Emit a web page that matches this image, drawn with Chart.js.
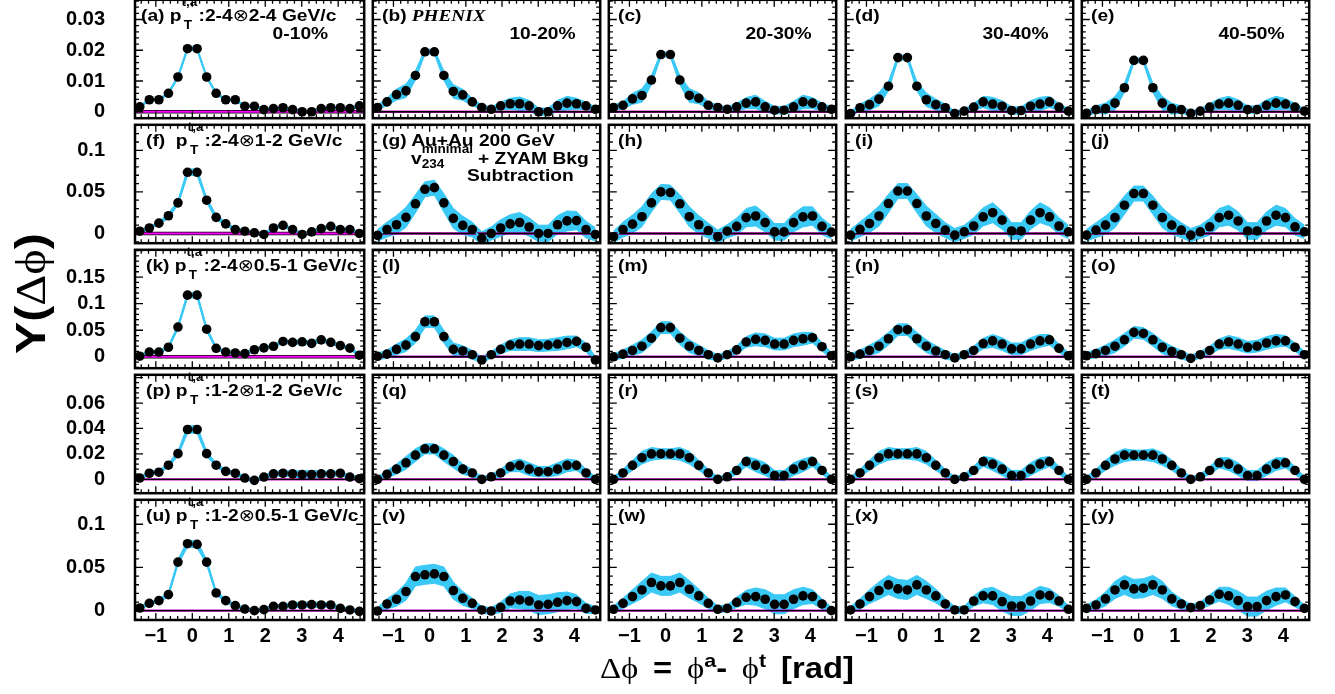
<!DOCTYPE html>
<html>
<head>
<meta charset="utf-8">
<script src="https://cdn.jsdelivr.net/npm/chart.js@4.4.1/dist/chart.umd.min.js"></script>
<style>
  body { margin: 0; background: #fff; }
  #page { position: relative; width: 1335px; height: 694px; overflow: hidden; background: #fff; }
  #page canvas { position: absolute; }
  .lbl { position: absolute; font: bold 17px "Liberation Sans", Arial, sans-serif; line-height: 17px;
         white-space: nowrap; transform: scaleX(1.13); transform-origin: 0 0; color: #000; z-index: 5; }
  .lbl.r { transform-origin: 100% 0; }
  .sym { font-family: "DejaVu Sans", sans-serif; font-weight: normal; }
  .gr { font-family: "Liberation Serif", "DejaVu Serif", serif; font-weight: normal; }
  .phx { font-family: "Liberation Serif", serif; font-style: italic; }
  .ss { display: inline-block; position: relative; height: 1px; }
  .ss span { position: absolute; left: 0; font-size: 12px; line-height: 12px; }
</style>
</head>
<body>
<div id="page"></div>
<script>
// bin centres in delta phi (rad)
const dphi = [-1.440, -1.178, -0.916, -0.654, -0.393, -0.131, 0.131, 0.393, 0.654, 0.916, 1.178, 1.440,
              1.702, 1.963, 2.225, 2.487, 2.749, 3.011, 3.272, 3.534, 3.796, 4.058, 4.320, 4.581];

// per-trigger yields, one array per panel
const yield_a = [0.0016,0.0039,0.0039,0.006,0.0113,0.0205,0.0205,0.0113,0.006,0.0039,0.0039,0.0018,0.0018,0.0007,0.001,0.0013,0.0007,0.0,0.0,0.001,0.0013,0.0013,0.001,0.0019];
const yield_b = [0.0014,0.0032,0.0056,0.0068,0.0118,0.0195,0.0195,0.0118,0.0066,0.0055,0.0032,0.0014,0.0008,0.0019,0.0026,0.0026,0.0019,0.0,0.0,0.0019,0.0028,0.0026,0.0019,0.0008];
const yield_c = [0.0014,0.0021,0.0042,0.0053,0.0103,0.0186,0.0186,0.0103,0.0053,0.0044,0.0021,0.0014,0.0008,0.0016,0.0028,0.0032,0.0016,0.0005,0.0005,0.0016,0.0032,0.0028,0.0016,0.0008];
const yield_d = [-0.0006,0.0013,0.0023,0.0041,0.0083,0.0176,0.0176,0.0083,0.0039,0.0023,0.0013,-0.0006,0.0002,0.0015,0.0032,0.0025,0.0018,0.0004,0.0004,0.0018,0.0025,0.0032,0.0015,0.0002];
const yield_e = [-0.0005,0.0007,0.001,0.0028,0.0078,0.0167,0.0167,0.0078,0.0028,0.001,0.0007,-0.0005,0.0002,0.0015,0.0025,0.0028,0.0021,0.0007,0.0007,0.0021,0.0028,0.0025,0.0015,0.0002];

const yield_f = [0.0027,0.0066,0.0124,0.0213,0.0368,0.0736,0.0736,0.04,0.0194,0.0116,0.0047,0.0027,0.0008,-0.0012,0.0066,0.0097,0.0047,-0.0012,0.0019,0.0058,0.0085,0.0047,0.0047,0.0];
const yield_g = [-0.0023,0.0047,0.0105,0.0194,0.0357,0.0531,0.0551,0.0368,0.0182,0.0097,0.0047,-0.0058,0.0,0.0066,0.0116,0.0132,0.0078,0.0,0.0,0.0105,0.0151,0.0155,0.0047,-0.0012];
const yield_h = [-0.0039,0.0047,0.0112,0.0202,0.0368,0.05,0.0492,0.0357,0.0202,0.0105,0.0035,-0.0039,0.0027,0.0085,0.019,0.021,0.013,0.0019,0.0019,0.013,0.02,0.021,0.0085,0.0016];
const yield_i = [-0.002,0.005,0.012,0.021,0.036,0.051,0.051,0.036,0.021,0.012,0.004,-0.002,0.002,0.009,0.02,0.025,0.016,0.003,0.003,0.016,0.025,0.02,0.009,0.002];
const yield_j = [-0.002,0.004,0.01,0.019,0.034,0.048,0.048,0.034,0.019,0.01,0.004,-0.002,0.002,0.008,0.019,0.022,0.015,0.003,0.003,0.015,0.022,0.019,0.008,0.002];

const yield_k = [0.0012,0.009,0.009,0.018,0.056,0.116,0.116,0.052,0.016,0.009,0.0072,0.006,0.0133,0.0169,0.0199,0.0289,0.0271,0.0283,0.0253,0.0319,0.0271,0.0211,0.0163,0.003];
const yield_l = [0.001,0.005,0.014,0.022,0.038,0.066,0.066,0.038,0.014,0.011,0.004,-0.006,0.004,0.014,0.022,0.024,0.024,0.021,0.022,0.024,0.027,0.029,0.018,-0.006];
const yield_m = [0.0,0.005,0.012,0.02,0.035,0.055,0.055,0.035,0.02,0.012,0.004,-0.002,0.004,0.013,0.028,0.033,0.031,0.024,0.024,0.031,0.034,0.036,0.019,0.002];
const yield_n = [0.0,0.005,0.012,0.02,0.034,0.051,0.051,0.034,0.02,0.011,0.004,-0.002,0.004,0.012,0.025,0.03,0.024,0.015,0.015,0.024,0.03,0.032,0.016,0.002];
const yield_o = [0.002,0.006,0.012,0.02,0.032,0.046,0.044,0.032,0.018,0.01,0.004,-0.003,0.004,0.012,0.024,0.028,0.024,0.018,0.02,0.026,0.03,0.03,0.018,0.004];

const yield_p = [0.001,0.0048,0.0056,0.0111,0.0202,0.0392,0.0392,0.0202,0.0111,0.0063,0.0048,0.001,-0.0008,0.0018,0.0043,0.0048,0.0043,0.0038,0.0038,0.0043,0.0043,0.0048,0.0018,0.0005];
const yield_q = [0.0,0.004,0.008,0.013,0.019,0.024,0.024,0.019,0.014,0.008,0.005,0.0,0.002,0.005,0.01,0.011,0.008,0.006,0.006,0.008,0.011,0.011,0.005,0.0];
const yield_r = [0.0,0.005,0.011,0.017,0.02,0.02,0.02,0.02,0.017,0.011,0.005,0.0,0.002,0.007,0.014,0.011,0.008,0.003,0.003,0.008,0.011,0.014,0.007,0.0];
const yield_s = [0.0,0.005,0.011,0.017,0.02,0.02,0.02,0.02,0.017,0.011,0.005,0.0,0.002,0.007,0.014,0.012,0.008,0.003,0.003,0.008,0.012,0.014,0.007,0.0];
const yield_t = [0.0,0.005,0.011,0.016,0.019,0.019,0.019,0.019,0.016,0.011,0.005,0.0,0.002,0.007,0.013,0.012,0.008,0.003,0.003,0.008,0.012,0.013,0.007,0.0];

const yield_u = [0.0031,0.0085,0.0116,0.0186,0.0562,0.0775,0.0767,0.0562,0.0205,0.0116,0.0058,0.0019,0.0,0.0012,0.005,0.005,0.0066,0.0066,0.007,0.0066,0.0066,0.0027,0.0008,-0.0008];
const yield_v = [-0.0004,0.0078,0.0132,0.0221,0.0395,0.0415,0.0426,0.0395,0.0233,0.0143,0.0085,0.0008,-0.0004,0.0039,0.0112,0.0124,0.0112,0.0066,0.0074,0.0097,0.0116,0.0105,0.0027,0.0008];
const yield_w = [0.0016,0.0085,0.0163,0.024,0.0326,0.0287,0.0287,0.0326,0.0248,0.0171,0.0085,0.0016,0.0027,0.0097,0.0155,0.0163,0.0132,0.0074,0.0074,0.0132,0.0171,0.0163,0.0078,0.0];
const yield_x = [0.0008,0.0078,0.0163,0.0233,0.0298,0.0252,0.024,0.0298,0.024,0.0171,0.0078,0.0008,0.0008,0.0112,0.0171,0.0171,0.0105,0.0054,0.0054,0.0112,0.0182,0.0174,0.0112,0.0016];
const yield_y = [0.0027,0.0066,0.0136,0.024,0.0298,0.0252,0.026,0.0298,0.024,0.0136,0.0078,0.0035,0.0058,0.0124,0.019,0.0171,0.0116,0.0047,0.0047,0.0116,0.0163,0.0182,0.0105,0.0027];

// systematic band half widths: first column panels, then the other columns by row
const band_a = [0.0004,0.0004,0.0004,0.0004,0.0005,0.0006,0.0006,0.0005,0.0004,0.0004,0.0004,0.0004,0.0004,0.0004,0.0004,0.0004,0.0004,0.0004,0.0004,0.0004,0.0004,0.0004,0.0004,0.0004];
const band_f = [0.002,0.002,0.002,0.003,0.003,0.004,0.004,0.003,0.003,0.002,0.002,0.002,0.002,0.002,0.002,0.002,0.002,0.002,0.002,0.002,0.002,0.002,0.002,0.002];
const band_k = [0.003,0.003,0.003,0.003,0.004,0.005,0.005,0.004,0.003,0.003,0.003,0.003,0.003,0.003,0.003,0.003,0.004,0.004,0.004,0.004,0.003,0.003,0.003,0.003];
const band_p = [0.0015,0.0015,0.0015,0.0015,0.002,0.003,0.003,0.002,0.0015,0.0015,0.0015,0.0015,0.0015,0.0015,0.002,0.002,0.0025,0.003,0.003,0.0025,0.002,0.002,0.0015,0.0015];
const band_u = [0.002,0.002,0.002,0.0025,0.003,0.004,0.004,0.003,0.0025,0.002,0.002,0.002,0.002,0.002,0.002,0.0025,0.003,0.003,0.003,0.003,0.0025,0.002,0.002,0.002];

const band_row1 = [0.0008,0.0012,0.0018,0.0022,0.0015,0.0008,0.0008,0.0015,0.0022,0.0018,0.0012,0.0008,0.0008,0.0012,0.0018,0.0022,0.0018,0.0012,0.0012,0.0018,0.0022,0.0018,0.0012,0.0008];
const band_row2 = [0.007,0.009,0.011,0.012,0.011,0.009,0.009,0.011,0.012,0.011,0.009,0.008,0.008,0.01,0.011,0.012,0.011,0.01,0.01,0.011,0.012,0.011,0.01,0.008];
const band_row3 = [0.006,0.008,0.01,0.012,0.012,0.011,0.011,0.012,0.012,0.01,0.008,0.006,0.006,0.008,0.01,0.012,0.012,0.011,0.011,0.012,0.012,0.01,0.008,0.006];
const band_row4 = [0.002,0.003,0.004,0.005,0.005,0.004,0.004,0.005,0.005,0.004,0.003,0.002,0.002,0.003,0.004,0.005,0.005,0.004,0.004,0.005,0.005,0.004,0.003,0.002];
const band_row5 = [0.004,0.006,0.008,0.01,0.011,0.011,0.011,0.011,0.01,0.008,0.006,0.004,0.004,0.006,0.008,0.01,0.011,0.011,0.011,0.011,0.01,0.008,0.006,0.004];

// y axis per row
const yMin = [-0.0021, -0.0117, -0.0214, -0.0109, -0.0108];
const yMax = [0.0364, 0.1307, 0.2013, 0.0822, 0.1283];
const yStep = [0.01, 0.05, 0.05, 0.02, 0.05];
const yMinor = [0.002, 0.01, 0.01, 0.004, 0.01];
const yLabelTop = [0.03, 0.1, 0.15, 0.06, 0.1];

const panels = [yield_a, yield_b, yield_c, yield_d, yield_e,
                yield_f, yield_g, yield_h, yield_i, yield_j,
                yield_k, yield_l, yield_m, yield_n, yield_o,
                yield_p, yield_q, yield_r, yield_s, yield_t,
                yield_u, yield_v, yield_w, yield_x, yield_y];
const firstColBand = [band_a, band_f, band_k, band_p, band_u];
const rowBand = [band_row1, band_row2, band_row3, band_row4, band_row5];

const colLeft = [135, 371, 607, 844, 1080];
const rowTop = [-2, 123, 248, 373, 498];
const W = 231, H = 122, pad = 3, xAxisH = 40;
const cyan = '#3ac8f5';

const frameTicks = {
  id: 'frameTicks',
  afterDraw(chart, args, opts) {
    const {ctx, chartArea: a} = chart;
    const xs = chart.scales.x, ys = chart.scales.y;
    ctx.save();
    ctx.strokeStyle = '#000';
    ctx.lineWidth = 1.3;
    ctx.beginPath();
    for (let k = -7; k <= 23; k++) {
      const px = xs.getPixelForValue(k * 0.2);
      const len = k % 5 === 0 ? 7 : 4;
      ctx.moveTo(px, a.bottom); ctx.lineTo(px, a.bottom - len);
      ctx.moveTo(px, a.top); ctx.lineTo(px, a.top + len);
    }
    const every = Math.round(opts.step / opts.minor);
    for (let k = Math.ceil(ys.min / opts.minor); k * opts.minor <= ys.max; k++) {
      const py = ys.getPixelForValue(k * opts.minor);
      const len = k % every === 0 ? 8 : 4;
      ctx.moveTo(a.left, py); ctx.lineTo(a.left + len, py);
      ctx.moveTo(a.right, py); ctx.lineTo(a.right - len, py);
    }
    ctx.stroke();
    ctx.lineWidth = 2.5;
    ctx.strokeRect(a.left, a.top, a.right - a.left, a.bottom - a.top);
    ctx.restore();
  }
};

const page = document.getElementById('page');
const tickFont = {family: '"Liberation Sans", Arial, sans-serif', weight: 'bold', size: 20};

for (let r = 0; r < 5; r++) {
  for (let c = 0; c < 5; c++) {
    const vals = panels[r * 5 + c];
    const err = c === 0 ? firstColBand[r] : rowBand[r];
    const pts = dphi.map((x, i) => ({x, y: vals[i]}));
    const up = dphi.map((x, i) => ({x, y: vals[i] + err[i]}));
    const lo = dphi.map((x, i) => ({x, y: vals[i] - err[i]}));
    const zero = [{x: -Math.PI / 2, y: 0}, {x: 1.5 * Math.PI, y: 0}];
    const brightLine = c === 0 && r < 3;
    const showX = r === 4, showY = c === 0;

    const L = colLeft[c], T = rowTop[r];
    const cl = showY ? 0 : L - pad;
    const ct = T - pad;
    const cw = L + W + pad - cl;
    const ch = T + H + (showX ? xAxisH : pad) - ct;
    const cv = document.createElement('canvas');
    cv.width = cw; cv.height = ch;
    cv.style.left = cl + 'px'; cv.style.top = ct + 'px';
    cv.style.width = cw + 'px'; cv.style.height = ch + 'px';
    page.appendChild(cv);

    new Chart(cv, {
      type: 'line',
      data: {
        datasets: [
          {data: pts, borderColor: cyan, borderWidth: 2, pointRadius: 4.8, pointBackgroundColor: '#000',
           pointBorderWidth: 0, fill: false, tension: 0},
          {data: zero, borderColor: brightLine ? '#ff00ff' : '#000', borderWidth: brightLine ? 2 : 1.4, pointRadius: 0, fill: false},
          {data: zero, borderColor: brightLine ? '#000' : '#c000c0', borderWidth: brightLine ? 3.5 : 2.4, pointRadius: 0, fill: false},
          {data: up, borderColor: cyan, borderWidth: 1, pointRadius: 0, fill: false},
          {data: lo, borderColor: cyan, borderWidth: 1, pointRadius: 0, fill: '-1', backgroundColor: cyan}
        ]
      },
      options: {
        responsive: false,
        maintainAspectRatio: false,
        animation: false,
        devicePixelRatio: 1,
        events: [],
        layout: {padding: {left: showY ? 0 : pad, top: pad, right: pad, bottom: showX ? 0 : pad}},
        plugins: {
          legend: {display: false},
          tooltip: {enabled: false},
          frameTicks: {step: yStep[r], minor: yMinor[r]}
        },
        scales: {
          x: {
            type: 'linear', min: -Math.PI / 2, max: 1.5 * Math.PI,
            display: showX,
            grid: {display: false, drawTicks: false},
            border: {display: false},
            ticks: {
              stepSize: 1, includeBounds: false, autoSkip: false, maxRotation: 0, padding: 4,
              color: '#000', font: tickFont,
              callback: v => (v < 0 ? '\u2212' + Math.abs(v) : String(v))
            },
            afterFit: s => { if (showX) { s.height = xAxisH; s.paddingLeft = 0; s.paddingRight = 0; } }
          },
          y: {
            type: 'linear', min: yMin[r], max: yMax[r],
            display: showY,
            grid: {display: false, drawTicks: false},
            border: {display: false},
            ticks: {
              stepSize: yStep[r], includeBounds: false, autoSkip: false, padding: 30,
              color: '#000', font: tickFont,
              callback: v => (v > yLabelTop[r] + 1e-6 ? null : String(+v.toFixed(3)))
            },
            afterFit: s => { if (showY) { s.width = L; s.paddingTop = 0; s.paddingBottom = 0; } }
          }
        }
      },
      plugins: [frameTicks]
    });
  }
}

// text annotations
function addLabel(html, left, base, right) {
  const d = document.createElement('div');
  d.className = 'lbl' + (right ? ' r' : '');
  d.innerHTML = html;
  d.style.top = (base - 14.4) + 'px';
  if (right) d.style.right = (1335 - left) + 'px';
  else d.style.left = left + 'px';
  page.appendChild(d);
}

const pT = '<span>p</span><span class="ss" style="width:15px"><span style="top:-24px">t,a</span>' +
           '<span style="top:-1px;left:2px">T</span></span>';
const otimes = '<span class="sym">\u2297</span>';
const letters = 'abcdefghijklmnopqrstuvwxy';
const firstCol = {
  a: '(a) ' + pT + ':2-4' + otimes + '2-4 GeV/c',
  f: '(f)&nbsp; ' + pT + ':2-4' + otimes + '1-2 GeV/c',
  k: '(k) ' + pT + ':2-4' + otimes + '0.5-1 GeV/c',
  p: '(p) ' + pT + ':1-2' + otimes + '1-2 GeV/c',
  u: '(u) ' + pT + ':1-2' + otimes + '0.5-1 GeV/c'
};
const centrality = ['0-10%', '10-20%', '20-30%', '30-40%', '40-50%'];

for (let r = 0; r < 5; r++) {
  for (let c = 0; c < 5; c++) {
    const ch = letters[r * 5 + c];
    const L = colLeft[c], T = rowTop[r];
    let html = '(' + ch + ')';
    if (c === 0) html = firstCol[ch];
    if (ch === 'b') html = '(b) <span class="phx">PHENIX</span>';
    if (ch === 'g') html = '(g) Au+Au 200 GeV';
    addLabel(html, L + (c === 0 && r === 0 ? 6 : 10.5), T + 23.5);
  }
}
for (let c = 0; c < 5; c++) {
  addLabel(centrality[c], colLeft[c] + W - (c === 0 ? 38 : 26), rowTop[0] + 41.5, true);
}
addLabel('v<span class="ss" style="width:45px"><span style="top:-20px">minimal</span>' +
         '<span style="top:-5px">234</span></span> + ZYAM Bkg', 410.5, 164.3);
addLabel('Subtraction', 467, 181.7);

// axis titles
const yt = document.createElement('div');
yt.className = 'lbl';
yt.style.cssText = 'left:10px;top:354px;font-size:42px;line-height:42px;transform:rotate(-90deg) scaleX(1.15);transform-origin:0 0;';
yt.innerHTML = 'Y(<span class="gr">\u0394\u03d5</span>)';
page.appendChild(yt);

const xt = document.createElement('div');
xt.className = 'lbl';
xt.style.cssText = 'left:600px;top:654px;font-size:29px;line-height:29px;word-spacing:5px;';
xt.innerHTML = '<span class="gr">\u0394\u03d5</span> = <span class="gr">\u03d5</span>' +
  '<span style="position:relative;top:-11px;font-size:19px">a</span>- ' +
  '<span class="gr">\u03d5</span><span style="position:relative;top:-11px;font-size:19px">t</span> [rad]';
page.appendChild(xt);
</script>
</body>
</html>
